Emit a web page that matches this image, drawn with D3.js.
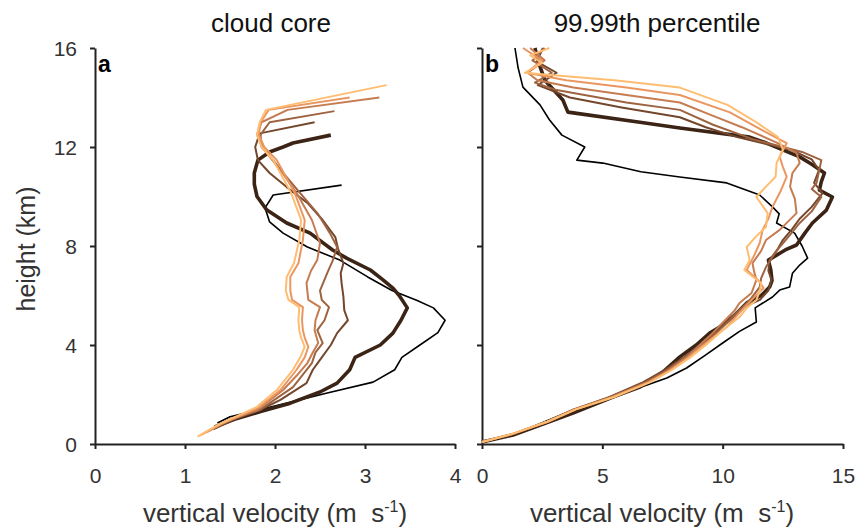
<!DOCTYPE html>
<html><head><meta charset="utf-8">
<script src="https://cdn.jsdelivr.net/npm/d3@7/dist/d3.min.js"></script>
<style>body{margin:0;background:#fff}svg{display:block}</style>
</head><body>
<svg id="c" width="864" height="531"></svg>
<script>
// ---- data: [height (km), vertical velocity (m/s)] ----
// panel a: cloud core
const coreS0 = [[0.85,1.36],[1.1,1.5],[1.4,1.85],[2.06,2.58],[2.5,3.09],[3.0,3.33],[3.5,3.41],[4.0,3.61],[4.5,3.81],[5.0,3.89],[5.5,3.76],[5.8,3.58],[6.2,3.3],[6.75,3.03],[7.43,2.72],[7.96,2.36],[8.52,2.09],[8.97,1.94],[9.54,1.89],[10.06,1.98],[10.46,2.74]];
const coreS1 = [[0.69,1.33],[1.0,1.55],[1.3,1.83],[1.65,2.17],[2.1,2.5],[2.46,2.69],[3.0,2.83],[3.5,2.89],[4.0,3.17],[4.48,3.31],[5.0,3.4],[5.5,3.47],[6.0,3.38],[6.3,3.31],[6.63,3.2],[7.03,3.06],[7.5,2.8],[7.84,2.64],[8.52,2.39],[8.93,2.13],[9.45,1.91],[10.0,1.8],[10.5,1.77],[10.95,1.77],[11.47,1.81],[11.8,1.94],[12.0,2.09],[12.16,2.2],[12.48,2.62]];
const coreS2 = [[0.6,1.32],[1.0,1.55],[1.37,1.83],[1.78,2.06],[2.46,2.35],[3.0,2.42],[3.4,2.5],[4.0,2.62],[4.48,2.69],[5.0,2.81],[5.4,2.77],[5.95,2.76],[6.5,2.74],[6.9,2.73],[7.3,2.76],[7.9,2.7],[8.36,2.67],[9.05,2.53],[9.74,2.36],[10.38,2.13],[10.95,1.94],[11.47,1.81],[12.0,1.78],[12.55,1.83],[13.0,2.44]];
const coreS3 = [[0.5,1.25],[1.0,1.52],[1.37,1.83],[1.65,1.94],[2.3,2.2],[3.27,2.41],[3.7,2.45],[4.08,2.53],[4.6,2.47],[5.0,2.55],[5.53,2.6],[5.82,2.52],[6.2,2.5],[6.9,2.58],[7.4,2.64],[7.96,2.69],[8.52,2.61],[9.33,2.47],[10.14,2.28],[10.95,2.09],[11.47,1.98],[12.0,1.85],[12.5,1.84],[13.0,1.94],[13.45,2.66]];
const coreS4 = [[0.45,1.22],[1.0,1.5],[1.37,1.8],[2.18,2.09],[2.8,2.25],[3.27,2.36],[3.7,2.42],[4.08,2.48],[4.6,2.44],[5.0,2.45],[5.53,2.5],[5.82,2.37],[6.5,2.35],[7.0,2.4],[7.43,2.47],[8.12,2.5],[9.05,2.41],[10.14,2.24],[11.07,2.06],[11.47,1.97],[12.0,1.86],[12.5,1.8],[13.0,1.85],[13.5,2.14],[14.0,3.16]];
const coreS5 = [[0.35,1.17],[0.8,1.4],[1.2,1.65],[1.5,1.83],[2.18,2.06],[3.0,2.24],[3.5,2.33],[3.92,2.37],[4.3,2.33],[4.6,2.31],[5.0,2.3],[5.53,2.31],[5.82,2.19],[6.2,2.17],[6.75,2.17],[7.3,2.26],[8.24,2.31],[9.05,2.33],[10.14,2.22],[11.47,2.02],[12.0,1.88],[12.5,1.82],[13.0,1.84],[13.5,1.93],[14.0,2.83]];
const coreS6 = [[0.3,1.14],[0.8,1.38],[1.2,1.62],[1.5,1.8],[2.18,2.02],[3.0,2.2],[3.5,2.28],[3.92,2.33],[4.3,2.29],[4.6,2.27],[5.0,2.26],[5.53,2.27],[5.82,2.15],[6.2,2.12],[6.75,2.13],[7.3,2.21],[8.24,2.27],[9.05,2.29],[10.14,2.18],[11.47,1.98],[12.0,1.85],[12.5,1.8],[13.0,1.83],[13.5,1.9],[14.5,3.24]];

// panel b: 99.99th percentile
const pctS0 = [[0.08,0],[0.36,1.29],[0.9,2.6],[1.37,3.78],[1.9,5.44],[2.67,7.68],[3.07,8.5],[3.6,9.3],[4.08,10.0],[4.55,10.7],[4.93,11.4],[5.5,11.35],[5.94,12.07],[6.22,12.37],[6.34,12.78],[6.9,12.9],[7.23,13.2],[7.51,13.53],[8.0,13.3],[8.52,12.99],[8.93,12.24],[9.3,12.35],[9.58,12.07],[10.06,11.54],[10.55,10.17],[10.79,8.22],[11.0,6.6],[11.35,5.02],[11.47,3.94],[12.0,4.27],[12.48,3.32],[13.1,2.8],[13.7,2.41],[14.42,1.7],[15.2,1.5],[16.0,1.37]];
const pctS1 = [[0.08,0],[0.36,1.29],[0.85,2.65],[1.25,3.78],[1.9,5.44],[2.3,6.56],[2.9,7.5],[3.52,8.22],[4.0,8.9],[4.48,9.46],[4.73,9.88],[5.2,10.5],[5.7,11.0],[6.0,11.6],[6.34,11.95],[6.6,12.05],[7.03,12.0],[7.43,11.9],[7.84,12.6],[8.04,13.07],[8.5,13.4],[8.93,13.73],[9.45,14.31],[9.98,14.56],[10.26,14.02],[10.6,14.1],[10.95,14.23],[11.3,13.7],[11.6,13.2],[12.16,11.82],[12.4,11.12],[12.77,8.22],[13.0,6.56],[13.41,3.57],[13.9,3.36],[14.7,2.61],[15.5,2.32],[16.0,2.2]];
const pctS2 = [[0.08,0],[0.4,1.3],[0.9,2.7],[1.4,3.85],[1.9,5.3],[2.5,6.7],[3.0,7.6],[3.5,8.4],[4.0,9.05],[4.5,9.7],[5.0,10.2],[5.5,10.8],[5.82,11.54],[6.2,11.9],[6.63,12.03],[7.0,11.9],[7.43,11.95],[7.9,12.3],[8.24,12.5],[8.7,12.9],[9.1,13.2],[9.58,13.7],[10.14,14.15],[10.55,13.8],[11.07,14.0],[11.5,13.7],[11.9,12.8],[12.4,10.6],[12.8,9.3],[13.2,8.22],[13.6,5.8],[14.0,3.65],[14.5,2.32],[15.0,3.1],[15.45,2.28],[16.0,2.53]];
const pctS3 = [[0.08,0],[0.4,1.28],[0.9,2.7],[1.4,3.8],[1.9,5.35],[2.5,6.8],[3.0,7.7],[3.5,8.45],[4.0,9.1],[4.5,9.75],[5.0,10.3],[5.41,10.7],[5.9,11.2],[6.34,11.54],[6.7,11.6],[7.15,11.8],[7.6,12.1],[7.96,12.37],[8.45,12.8],[8.93,13.2],[9.4,13.7],[9.98,14.1],[10.3,13.7],[10.55,13.9],[11.0,14.0],[11.47,14.1],[11.8,13.3],[12.3,11.3],[12.9,9.6],[13.5,8.22],[13.8,6.0],[14.3,3.1],[14.6,2.2],[15.0,2.9],[15.5,2.1],[16.0,2.6]];
const pctS4 = [[0.08,0],[0.4,1.25],[0.9,2.7],[1.4,3.85],[1.9,5.4],[2.5,6.9],[3.0,7.8],[3.5,8.5],[4.0,9.05],[4.5,9.6],[5.0,10.1],[5.4,10.5],[5.7,10.7],[6.1,11.2],[6.63,11.4],[7.0,11.3],[7.31,11.24],[7.8,11.6],[8.24,11.8],[8.65,12.37],[9.33,13.07],[9.9,13.0],[10.4,12.8],[10.95,12.9],[11.35,13.2],[11.76,13.07],[12.2,12.2],[12.8,10.8],[13.3,9.5],[13.8,8.22],[14.1,6.0],[14.4,3.8],[14.7,2.3],[15.0,1.9],[15.5,2.6],[16.0,2.0]];
const pctS5 = [[0.08,0],[0.4,1.25],[0.9,2.75],[1.4,3.9],[1.9,5.45],[2.5,6.95],[3.0,7.85],[3.5,8.6],[4.0,9.2],[4.73,10.17],[5.2,10.6],[5.82,11.2],[6.3,11.7],[6.6,11.5],[7.03,11.0],[7.6,11.3],[8.12,11.54],[8.65,11.66],[9.1,11.9],[9.58,12.07],[10.2,12.4],[10.8,12.66],[11.2,12.5],[11.6,12.37],[12.16,12.66],[12.7,11.6],[13.4,10.3],[14.1,8.22],[14.4,6.0],[14.7,3.5],[15.0,1.85],[15.5,2.5],[16.0,1.7]];
const pctS6 = [[0.08,0],[0.4,1.22],[0.9,2.7],[1.4,3.9],[1.9,5.5],[2.5,7.0],[3.0,7.9],[3.5,8.65],[4.0,9.3],[4.6,10.0],[5.13,10.7],[5.5,11.0],[5.82,11.4],[6.2,11.55],[6.5,11.6],[6.8,11.2],[7.03,10.9],[7.43,11.12],[7.96,11.0],[8.4,11.4],[8.77,11.8],[9.33,11.87],[9.7,11.6],[9.98,11.4],[10.4,11.8],[10.8,12.2],[11.35,12.24],[11.9,12.5],[12.4,12.3],[13.0,11.4],[13.7,10.2],[14.4,8.22],[14.7,5.5],[14.9,3.0],[15.0,1.78],[15.4,2.5],[15.7,2.0],[16.0,2.8]];

const coreSeries = [coreS0, coreS1, coreS2, coreS3, coreS4, coreS5, coreS6];
const pctSeries  = [pctS0, pctS1, pctS2, pctS3, pctS4, pctS5, pctS6];

const panelLetters = ["a", "b"];
const panelTitles = ["cloud core", "99.99th percentile"];
const xTicksA = [0, 1, 2, 3, 4];
const xTicksB = [0, 5, 10, 15];
const yTicks = [0, 4, 8, 12, 16];
const xLabel = "vertical velocity (m\u00a0\u00a0s";
const xLabelSup = "-1";
const yLabel = "height (km)";

// ---- styles ----
const seriesColors = ["#000000", "#3b2415", "#74472c", "#9e6340", "#c67c50", "#ea9660", "#ffbd72"];
const seriesWidths = [1.6, 3.6, 2, 2, 2, 2, 2];
const FONT = "'Liberation Sans', Arial, Helvetica, sans-serif";

const svg = d3.select("#c");
const y = d3.scaleLinear().domain([0, 16]).range([444, 48]);

const panels = [
  {letter: panelLetters[0], title: panelTitles[0], series: coreSeries, x: d3.scaleLinear().domain([0, 4]).range([95, 455]), ticks: xTicksA, showY: true, titleX: 271, labelX: 275},
  {letter: panelLetters[1], title: panelTitles[1], series: pctSeries, x: d3.scaleLinear().domain([0, 15]).range([482, 843]), ticks: xTicksB, showY: false, titleX: 657, labelX: 662}
];

panels.forEach(p => {
  const g = svg.append("g");
  const x0 = p.x.range()[0];
  const ya = d3.axisLeft(y).tickValues(yTicks).tickSize(5).tickSizeOuter(0).tickPadding(13)
    .tickFormat(p.showY ? d3.format("d") : () => "");
  const yg = g.append("g").attr("transform", `translate(${x0},0)`).call(ya);
  const xa = d3.axisBottom(p.x).tickValues(p.ticks).tickSize(5).tickSizeOuter(0).tickPadding(19).tickFormat(d3.format("d"));
  const xg = g.append("g").attr("transform", `translate(0,444)`).call(xa);
  [yg, xg].forEach(a => {
    a.select(".domain").attr("stroke", "#222").attr("stroke-width", 2);
    a.selectAll(".tick line").attr("stroke", "#222").attr("stroke-width", 2);
    a.selectAll(".tick text").attr("font-family", FONT).attr("font-size", 21).attr("fill", "#333");
  });
  xg.selectAll(".tick text").attr("dy", null).attr("y", 39);
  yg.selectAll(".tick text").attr("dy", "0.36em");

  const line = d3.line().x(d => p.x(d[1])).y(d => y(d[0]));
  p.series.forEach((s, i) => {
    g.append("path").datum(s)
      .attr("d", line)
      .attr("fill", "none")
      .attr("stroke", seriesColors[i])
      .attr("stroke-width", seriesWidths[i])
      .attr("stroke-linejoin", "round")
      .attr("stroke-linecap", "butt");
  });

  g.append("text").attr("x", x0 + 3).attr("y", 72).text(p.letter)
    .attr("font-family", FONT).attr("font-size", 23).attr("font-weight", "bold").attr("fill", "#000");
  g.append("text").attr("x", p.titleX).attr("y", 32).attr("text-anchor", "middle").text(p.title)
    .attr("font-family", FONT).attr("font-size", 26).attr("fill", "#111");
  const xl = g.append("text").attr("x", p.labelX).attr("y", 522).attr("text-anchor", "middle")
    .attr("font-family", FONT).attr("font-size", 26).attr("fill", "#333");
  xl.append("tspan").text(xLabel);
  xl.append("tspan").attr("dy", -10).attr("font-size", 16).text(xLabelSup);
  xl.append("tspan").attr("dy", 10).text(")");
});

svg.append("text").attr("transform", "translate(35,249) rotate(-90)").attr("text-anchor", "middle")
  .attr("font-family", FONT).attr("font-size", 25).attr("fill", "#333").text(yLabel);
</script>
</body></html>
